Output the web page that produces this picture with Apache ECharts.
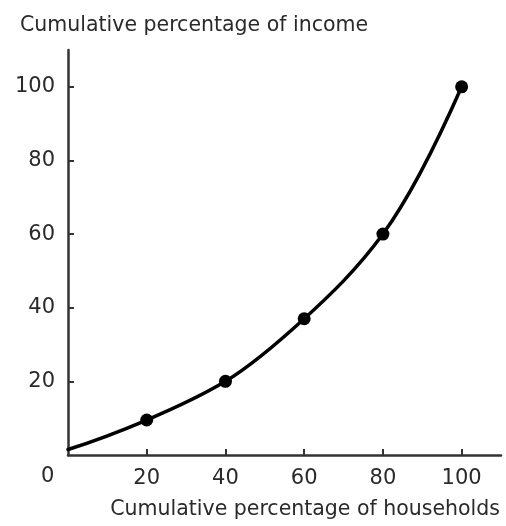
<!DOCTYPE html>
<html>
<head>
<meta charset="utf-8">
<script src="https://cdn.jsdelivr.net/npm/echarts@6/dist/echarts.min.js"></script>
<style>html,body{margin:0;padding:0;background:#fff}#c{width:506px;height:526px}</style>
</head>
<body>
<div id="c"></div>
<script>
const households = [0, 20, 40, 60, 80, 100];
const income = [1.5, 9.5, 20, 37, 60, 100];
const markedHouseholds = [20, 40, 60, 80, 100];
const markedIncome = [9.5, 20, 37, 60, 100];
const xTicks = [20, 40, 60, 80, 100];
const yTicks = [20, 40, 60, 80, 100];
const yTitle = 'Cumulative percentage of income';
const xTitle = 'Cumulative percentage of households';
const originLabel = '0';

const FONT = 'DejaVu Sans';
const TXT = '#2a2a2a';
const curveData = households.map((h, i) => [h, income[i]]);

// Monotone (PCHIP) cubic through the data points, in pixel space
function renderCurve(params, api) {
  if (params.dataIndex !== 0) return null;
  const p = curveData.map(d => api.coord(d));
  const n = p.length;
  const h = [], s = [];
  for (let i = 0; i < n - 1; i++) {
    h.push(p[i + 1][0] - p[i][0]);
    s.push((p[i + 1][1] - p[i][1]) / h[i]);
  }
  const m = new Array(n);
  for (let i = 1; i < n - 1; i++) {
    if (s[i - 1] * s[i] <= 0) { m[i] = 0; continue; }
    const w1 = 2 * h[i] + h[i - 1], w2 = h[i] + 2 * h[i - 1];
    m[i] = (w1 + w2) / (w1 / s[i - 1] + w2 / s[i]);
  }
  const endSlope = (h0, h1, s0, s1) => {
    let d = ((2 * h0 + h1) * s0 - h0 * s1) / (h0 + h1);
    if (d * s0 <= 0) d = 0;
    else if (s0 * s1 <= 0 && Math.abs(d) > Math.abs(3 * s0)) d = 3 * s0;
    return d;
  };
  m[0] = endSlope(h[0], h[1], s[0], s[1]);
  m[n - 1] = endSlope(h[n - 2], h[n - 3], s[n - 2], s[n - 3]);
  const children = [];
  for (let i = 0; i < n - 1; i++) {
    const dx = h[i] / 3;
    children.push({
      type: 'bezierCurve',
      shape: {
        x1: p[i][0], y1: p[i][1], x2: p[i + 1][0], y2: p[i + 1][1],
        cpx1: p[i][0] + dx, cpy1: p[i][1] + m[i] * dx,
        cpx2: p[i + 1][0] - dx, cpy2: p[i + 1][1] - m[i + 1] * dx
      },
      style: {stroke: '#000', lineWidth: 3.5, fill: null, lineCap: 'round'}
    });
  }
  return {type: 'group', children: children};
}

const chart = echarts.init(document.getElementById('c'), null, {renderer: 'canvas'});
chart.setOption({
  animation: false,
  backgroundColor: '#fff',
  grid: {left: 68, right: 5, top: 50, bottom: 71, containLabel: false},
  xAxis: {
    type: 'value', min: 0, max: 110, interval: 20,
    axisLine: {lineStyle: {color: '#333', width: 2.5}},
    axisTick: {inside: true, length: 6, lineStyle: {color: '#333', width: 2}, customValues: xTicks},
    axisLabel: {customValues: xTicks, margin: 13, fontSize: 21, fontFamily: FONT, color: TXT},
    splitLine: {show: false}
  },
  yAxis: {
    type: 'value', min: 0, max: 110, interval: 20,
    axisLine: {show: true, lineStyle: {color: '#333', width: 2.5}},
    axisTick: {show: true, inside: true, length: 6, lineStyle: {color: '#333', width: 2}, customValues: yTicks},
    axisLabel: {customValues: yTicks, margin: 13, fontSize: 21, fontFamily: FONT, color: TXT},
    splitLine: {show: false}
  },
  graphic: [
    {type: 'text', left: 20, top: 15, style: {text: yTitle, fontSize: 20.5, fontFamily: FONT, fill: TXT}},
    {type: 'text', right: 6, top: 499, style: {text: xTitle, fontSize: 20.5, fontFamily: FONT, fill: TXT}},
    {type: 'text', left: 41, top: 466, style: {text: originLabel, fontSize: 21, fontFamily: FONT, fill: TXT}}
  ],
  series: [
    {
      type: 'custom', renderItem: renderCurve, clip: false,
      data: curveData
    },
    {
      type: 'scatter', symbolSize: 13,
      data: markedHouseholds.map((h, i) => [h, markedIncome[i]]),
      itemStyle: {color: '#000', opacity: 1}
    }
  ]
});
</script>
</body>
</html>
